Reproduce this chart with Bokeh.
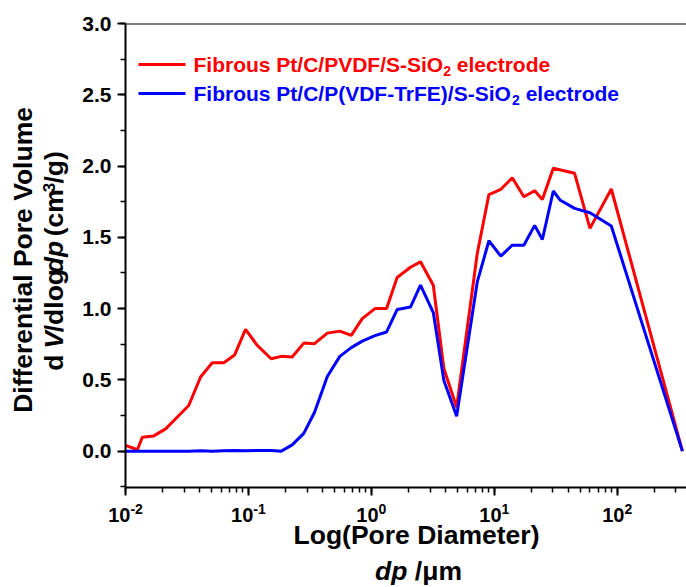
import math
from bokeh.plotting import figure
from bokeh.layouts import column, row
from bokeh.models import (Label, Span, BoxAnnotation, SingleIntervalTicker,
                          NumeralTickFormatter, CustomJSTickFormatter, LogTicker, Range1d)
from bokeh.core.properties import value
from bokeh.embed import file_html
from bokeh.resources import INLINE

# ---------------- data ----------------
dp_pvdf = [0.010, 0.0125, 0.0137, 0.0170, 0.0212, 0.0263, 0.0327, 0.0408, 0.0508, 0.0631,
           0.0771, 0.0947, 0.118, 0.153, 0.185, 0.227, 0.282, 0.345, 0.438, 0.554,
           0.686, 0.843, 1.07, 1.33, 1.62, 2.08, 2.51, 3.19, 3.89, 4.94,
           7.27, 9.04, 11.3, 14.0, 17.4, 21.3, 24.6, 30.2, 45.0, 60.0,
           89.5, 339]
pv_pvdf = [0.04, 0.01, 0.097, 0.107, 0.156, 0.238, 0.32, 0.52, 0.62, 0.62,
           0.674, 0.854, 0.742, 0.648, 0.665, 0.66, 0.758, 0.754, 0.828, 0.842,
           0.812, 0.93, 1.0, 1.0, 1.218, 1.29, 1.328, 1.164, 0.578, 0.308,
           1.387, 1.80, 1.837, 1.918, 1.785, 1.827, 1.766, 1.985, 1.949, 1.563,
           1.839, 0.0]

dp_trfe = [0.010, 0.0125, 0.0137, 0.0170, 0.0212, 0.0263, 0.0327, 0.0408, 0.0508, 0.0631,
           0.0771, 0.0947, 0.118, 0.153, 0.185, 0.227, 0.282, 0.345, 0.438, 0.554,
           0.686, 0.843, 1.07, 1.33, 1.62, 2.08, 2.51, 3.19, 3.89, 4.94,
           7.27, 9.04, 11.3, 14.0, 17.4, 21.3, 24.6, 30.2, 34.2, 45.0,
           60.0, 89.5, 339]
pv_trfe = [0.0, 0.0, 0.0, 0.0, 0.0, 0.0, 0.0, 0.003, 0.0, 0.003,
           0.005, 0.003, 0.004, 0.005, 0.0, 0.044, 0.125, 0.273, 0.524, 0.665,
           0.726, 0.772, 0.81, 0.836, 0.993, 1.011, 1.164, 0.972, 0.496, 0.245,
           1.187, 1.476, 1.368, 1.445, 1.445, 1.584, 1.485, 1.825, 1.762, 1.703,
           1.672, 1.579, 0.0]

series_names = ["Fibrous Pt/C/PVDF/S-SiO", "Fibrous Pt/C/P(VDF-TrFE)/S-SiO"]
series_colors = ["#FF0000", "#0000FF"]
x_exponents = [-2, -1, 0, 1, 2]

# ---------------- layout (page pixels) ----------------
W, H = 686, 587
LW = 78                      # left strip (y title)
MH = 498                     # height of main figure
FL, FR, FT, FB = 125, 686, 23, 487
XMIN, XMAX = 0.01, 366.0
YMIN, YMAX = -0.255, 3.0
FONT = "Liberation Sans"
BSHIFT = 0.3465              # renderer places the "alphabetic" anchor this many em low

# Arial/Liberation Sans Bold advance widths (1/1000 em)
AW = {' ': 278, '(': 333, ')': 333, '-': 333, '.': 278, '/': 278,
      'C': 722, 'D': 722, 'E': 667, 'F': 611, 'L': 611, 'O': 778, 'P': 667,
      'S': 667, 'T': 611, 'V': 667, 'a': 556, 'b': 611, 'c': 556, 'd': 611,
      'e': 556, 'f': 333, 'g': 611, 'i': 278, 'l': 278, 'm': 889, 'n': 611,
      'o': 611, 'p': 611, 'r': 389, 's': 556, 't': 333, 'u': 611, 'μ': 611}
for ch in "0123456789":
    AW[ch] = 556


def tw(s, size):
    return sum(AW.get(c, 600) for c in s) * size / 1000.0


# ---------------- main plot ----------------
p = figure(width=W - LW, height=MH, x_axis_type="log",
           x_range=Range1d(XMIN, XMAX), y_range=Range1d(YMIN, YMAX),
           output_backend="svg", toolbar_location=None,
           min_border_left=FL - LW, min_border_right=0,
           min_border_top=FT, min_border_bottom=MH - FB)
p.grid.visible = False
p.outline_line_color = None
p.background_fill_color = "white"
p.border_fill_color = "white"

p.line(dp_pvdf, pv_pvdf, line_color=series_colors[0], line_width=3)
p.line(dp_trfe, pv_trfe, line_color=series_colors[1], line_width=3)

for ax in (p.xaxis[0], p.yaxis[0]):
    ax.axis_line_width = 2
    ax.axis_line_color = "black"
    ax.major_tick_line_width = 2
    ax.minor_tick_line_width = 1.5
    ax.major_tick_in = 0
    ax.major_tick_out = 8
    ax.minor_tick_in = 0
    ax.minor_tick_out = 5
    ax.major_label_text_font = FONT
    ax.major_label_text_font_style = "bold"
    ax.major_label_text_color = "black"

p.yaxis.ticker = SingleIntervalTicker(interval=0.5, num_minor_ticks=2)
p.yaxis.formatter = NumeralTickFormatter(format="0.0")
p.yaxis.major_label_text_font_size = "21px"
p.yaxis.major_label_standoff = 6
p.xaxis.ticker = LogTicker(num_minor_ticks=10)
p.xaxis.formatter = CustomJSTickFormatter(code="return ''")
p.xaxis.major_label_text_font_size = "1px"
p.xaxis.major_label_standoff = 0

p.add_layout(Span(location=YMAX, dimension="width", line_color="black", line_width=2))


def main_label(text, cx, cy, size, color, style="bold"):
    cy = cy - BSHIFT * size
    p.add_layout(Label(x=cx - FL, y=FB - cy, x_units="screen", y_units="screen",
                       text=text, text_font=FONT, text_font_style=style,
                       text_font_size=f"{size}px", text_color=color,
                       text_align="left", text_baseline="alphabetic"))


# legend
rows = [(64, series_names[0], series_colors[0]), (93, series_names[1], series_colors[1])]
for ry, name, col in rows:
    p.add_layout(BoxAnnotation(left=138 - FL, right=185 - FL, bottom=FB - ry - 1.5,
                               top=FB - ry + 1.5, left_units="screen", right_units="screen",
                               bottom_units="screen", top_units="screen",
                               fill_color=col, fill_alpha=1.0, line_color=None))
    bx = 193
    base = ry + 7
    main_label(name, bx, base, 21, col)
    bx += tw(name, 21)
    main_label("2", bx, base + 4, 14, col)
    bx += tw("2", 14) + tw(" ", 21)
    main_label("electrode", bx, base, 21, col)


# ---------------- text strips ----------------
def strip(width, height):
    s = figure(width=width, height=height, x_range=Range1d(0, width), y_range=Range1d(0, height),
               output_backend="svg", toolbar_location=None,
               x_axis_location=None, y_axis_location=None,
               min_border_left=0, min_border_right=0, min_border_top=0, min_border_bottom=0)
    s.grid.visible = False
    s.outline_line_color = None
    s.background_fill_color = "white"
    s.border_fill_color = "white"
    return s


left = strip(LW, MH)
bottom = strip(W, H - MH)


def put(s, top, text, cx, cy, size, style="bold", angle=0.0, align="left"):
    if angle == 0.0:
        cy = cy - BSHIFT * size
    else:
        cx = cx - BSHIFT * size
    hh = s.height
    s.text(x=[cx], y=[hh - (cy - top)], text=[text], text_font=value(FONT),
           text_font_style=value(style), text_font_size=value(f"{size}px"),
           text_color="black", text_align=value(align), text_baseline=value("alphabetic"),
           angle=angle)


# x tick labels 10^n (positions follow the log scale of the main plot)
lx0, lx1 = math.log10(XMIN), math.log10(XMAX)
for e in x_exponents:
    tx = FL + (e - lx0) / (lx1 - lx0) * (FR - FL)
    es = str(e)
    w10 = tw("10", 20)
    we = tw(es, 14)
    x0 = tx - (w10 + we) / 2
    put(bottom, MH, "10", x0, 521, 20)
    put(bottom, MH, es, x0 + w10, 513, 14)

TS = 26.5
put(bottom, MH, "Log(Pore Diameter)", 416, 544, TS, align="center")
w1 = tw("dp", TS)
w2 = tw(" /μm", TS)
sx = 418 - (w1 + w2) / 2
put(bottom, MH, "dp", sx, 580, TS, style="bold italic")
put(bottom, MH, "/μm", sx + w1 + tw(" ", TS), 580, TS)

# y axis title (rotated, reading upwards)
A = math.pi / 2
t1 = "Differential Pore Volume"
L1 = tw(t1, TS)
put(left, 0, t1, 32, 264 + L1 / 2, TS, angle=A)
pieces = [("d", "bold", TS, 0), (" ", None, TS, 0), ("V", "bold italic", TS, 0),
          ("/dlog", "bold", TS, 0), ("dp", "bold italic", TS, 0), (" ", None, TS, 0),
          ("(cm", "bold", TS, 0), ("3", "bold", 17, -9), ("/g)", "bold", TS, 0)]
total = sum(tw(s, sz) for s, _, sz, _ in pieces)
cy = 256 + total / 2
for s_, st, sz, off in pieces:
    if st is not None:
        put(left, 0, s_, 63 + off, cy, sz, style=st, angle=A)
    cy -= tw(s_, sz)

layout = column(row(left, p, spacing=0), bottom, spacing=0)
open("out.html", "w").write(file_html(layout, INLINE))
